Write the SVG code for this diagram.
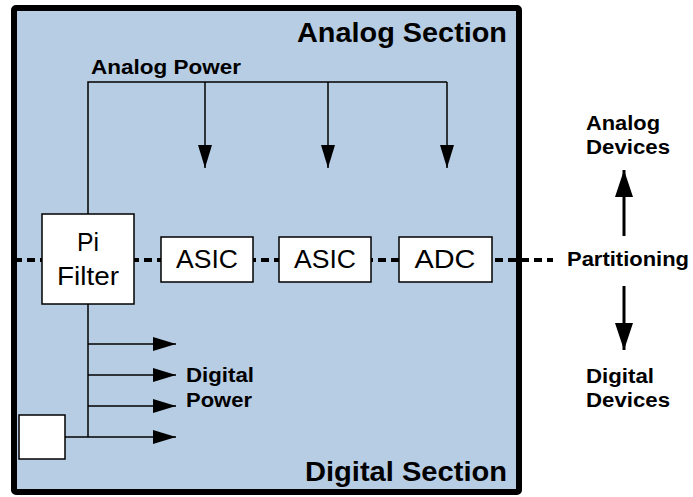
<svg xmlns="http://www.w3.org/2000/svg" width="693" height="497" viewBox="0 0 693 497">
<style>
.b{font-family:"Liberation Sans",Arial,sans-serif;font-weight:bold;fill:#000}
.r{font-family:"Liberation Sans",Arial,sans-serif;fill:#000;font-size:25px;text-anchor:middle}
.box{fill:#fff;stroke:#000;stroke-width:1.5}
.ln{stroke:#000;stroke-width:1.5;fill:none}
</style>
<defs>
<marker id="ah" markerUnits="userSpaceOnUse" markerWidth="24" markerHeight="16" refX="23" refY="7" orient="auto">
<path d="M0,0 L23,7 L0,14 Z" fill="#000"/>
</marker>
<marker id="ah2" markerUnits="userSpaceOnUse" markerWidth="28" markerHeight="20" refX="27" refY="9" orient="auto">
<path d="M0,0 L27,9 L0,18 Z" fill="#000"/>
</marker>
</defs>
<g id="board">
<rect x="14" y="8" width="505" height="484" rx="2" fill="#b7cde4" stroke="#000" stroke-width="6"/>
<text class="b" x="297" y="42" font-size="27" textLength="210" lengthAdjust="spacingAndGlyphs">Analog Section</text>
<text class="b" x="305" y="481" font-size="27" textLength="202" lengthAdjust="spacingAndGlyphs">Digital Section</text>
</g>
<g id="partition-line">
<line x1="14" y1="260" x2="553" y2="260" stroke="#000" stroke-width="4" stroke-dasharray="8 5"/>
</g>
<g id="connectors">
<polyline class="ln" points="88,214 88,82 447,82"/>
<line class="ln" x1="205" y1="82" x2="205" y2="168" marker-end="url(#ah)"/>
<line class="ln" x1="328" y1="82" x2="328" y2="168" marker-end="url(#ah)"/>
<line class="ln" x1="447" y1="82" x2="447" y2="168" marker-end="url(#ah)"/>
<line class="ln" x1="88" y1="304" x2="88" y2="437"/>
<line class="ln" x1="88" y1="344" x2="176" y2="344" marker-end="url(#ah)"/>
<line class="ln" x1="88" y1="375" x2="176" y2="375" marker-end="url(#ah)"/>
<line class="ln" x1="88" y1="406" x2="176" y2="406" marker-end="url(#ah)"/>
<line class="ln" x1="65" y1="437" x2="176" y2="437" marker-end="url(#ah)"/>
<line x1="624" y1="236" x2="624" y2="170" stroke="#000" stroke-width="3" marker-end="url(#ah2)"/>
<line x1="624" y1="286" x2="624" y2="350" stroke="#000" stroke-width="3" marker-end="url(#ah2)"/>
</g>
<g id="pi-filter">
<rect class="box" x="42" y="214" width="92" height="90"/>
<text class="r" x="88" y="251" textLength="22" lengthAdjust="spacingAndGlyphs">Pi</text>
<text class="r" x="88" y="285" textLength="62" lengthAdjust="spacingAndGlyphs">Filter</text>
</g>
<g id="asic1">
<rect class="box" x="161" y="237" width="92" height="45"/>
<text class="r" x="207" y="268" textLength="62" lengthAdjust="spacingAndGlyphs">ASIC</text>
</g>
<g id="asic2">
<rect class="box" x="279" y="237" width="92" height="45"/>
<text class="r" x="325" y="268" textLength="62" lengthAdjust="spacingAndGlyphs">ASIC</text>
</g>
<g id="adc">
<rect class="box" x="399" y="237" width="93" height="45"/>
<text class="r" x="445" y="268" textLength="61" lengthAdjust="spacingAndGlyphs">ADC</text>
</g>
<g id="small-box">
<rect class="box" x="19" y="415" width="46" height="44"/>
</g>
<g id="labels">
<text class="b" x="91" y="74" font-size="20" textLength="150" lengthAdjust="spacingAndGlyphs">Analog Power</text>
<text class="b" x="186" y="382" font-size="20" textLength="68" lengthAdjust="spacingAndGlyphs">Digital</text>
<text class="b" x="186" y="407" font-size="20" textLength="66" lengthAdjust="spacingAndGlyphs">Power</text>
<text class="b" x="586" y="130" font-size="20" textLength="74" lengthAdjust="spacingAndGlyphs">Analog</text>
<text class="b" x="586" y="154" font-size="20" textLength="84" lengthAdjust="spacingAndGlyphs">Devices</text>
<text class="b" x="567" y="266" font-size="20" textLength="122" lengthAdjust="spacingAndGlyphs">Partitioning</text>
<text class="b" x="586" y="383" font-size="20" textLength="68" lengthAdjust="spacingAndGlyphs">Digital</text>
<text class="b" x="586" y="407" font-size="20" textLength="84" lengthAdjust="spacingAndGlyphs">Devices</text>
</g>
</svg>
